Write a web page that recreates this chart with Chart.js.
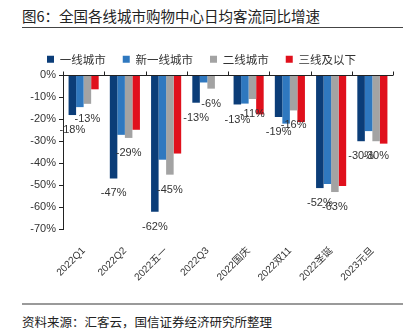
<!DOCTYPE html>
<html>
<head>
<meta charset="utf-8">
<script src="https://cdn.jsdelivr.net/npm/chart.js@4.4.1/dist/chart.umd.min.js"></script>
<style>
  body { margin: 0; background: #fff; width: 418px; height: 334px; position: relative; overflow: hidden;
         font-family: "Liberation Sans", "Noto Sans CJK SC", sans-serif; }
  .titulo { position: absolute; left: 22px; top: 5px; font-size: 14.5px; color: #222;
            font-family: "Noto Sans CJK SC", sans-serif; }
  .linea1 { position: absolute; left: 22px; top: 27px; width: 381px; height: 1px; background: #444; }
  .linea2 { position: absolute; left: 22px; top: 303px; width: 381px; height: 2px; background: #9a9a9a; }
  .fuente { position: absolute; left: 22px; top: 312px; font-size: 12.5px; color: #222;
            font-family: "Noto Sans CJK SC", sans-serif; }
  #wrap { position: absolute; left: 10px; top: 28px; width: 418px; height: 266px; }
</style>
</head>
<body>
<div class="titulo">图6：全国各线城市购物中心日均客流同比增速</div>
<div class="linea1"></div>
<div id="wrap"><canvas id="grafico"></canvas></div>
<div class="linea2"></div>
<div class="fuente">资料来源：汇客云，国信证券经济研究所整理</div>

<script>
// categorias y series (%)
const categorias = ["2022Q1", "2022Q2", "2022五一", "2022Q3", "2022国庆", "2022双11", "2022圣诞", "2023元旦"];
const series = ["一线城市", "新一线城市", "二线城市", "三线及以下"];
const tier1 = [-18.2, -47.0, -62.2, -12.6, -13.4, -19.1, -51.4, -30.1];
const tier1New = [-14.6, -27.2, -38.5, -3.4, -13.0, -22.1, -49.5, -25.5];
const tier2 = [-13.1, -28.6, -45.3, -6.2, -10.9, -16.1, -53.2, -30.1];
const tier3 = [-6.5, -24.9, -35.7, 0, -17.9, -21.4, -50.4, -31.2];
// etiquetas tal como aparecen en la imagen
const etiquetasTier1 = ["-18%", "-47%", "-62%", "-13%", "-13%", "-19%", "-52%", "-30%"];
const etiquetasTier2 = ["-13%", "-29%", "-45%", "-6%", "-11%", "-16%", "-63%", "-30%"];
const ticksY = [0, -10, -20, -30, -40, -50, -60, -70];

const colores = ["#0b3d78", "#2f78bf", "#a3a3a3", "#e0101c"];
const valores = [tier1, tier1New, tier2, tier3];

const fuenteNum = "'Liberation Sans', 'Noto Sans CJK SC', sans-serif";

// Etiquetas de datos debajo de las barras (series 1 y 3)
const etiquetasPlugin = {
  id: "etiquetas",
  afterDatasetsDraw(chart) {
    const ctx = chart.ctx;
    ctx.save();
    ctx.font = "11px " + fuenteNum;
    ctx.fillStyle = "#333";
    ctx.textAlign = "center";
    ctx.textBaseline = "middle";
    [[0, etiquetasTier1], [2, etiquetasTier2]].forEach(([idx, textos]) => {
      chart.getDatasetMeta(idx).data.forEach((bar, i) => {
        ctx.fillText(textos[i], bar.x, bar.y + 15);
      });
    });
    ctx.restore();
  }
};

// linea del cero con marcas hacia arriba entre categorias
const ejeCeroPlugin = {
  id: "ejeCero",
  afterDatasetsDraw(chart) {
    const ctx = chart.ctx;
    const x = chart.scales.x;
    const y0 = Math.round(chart.scales.y.getPixelForValue(0)) + 0.5;
    const paso = x.getPixelForValue(1) - x.getPixelForValue(0);
    ctx.save();
    ctx.strokeStyle = "#222";
    ctx.lineWidth = 1;
    ctx.beginPath();
    ctx.moveTo(chart.chartArea.left, y0);
    ctx.lineTo(chart.chartArea.right, y0);
    for (let i = 0; i <= categorias.length; i++) {
      const px = Math.round(x.getPixelForValue(i) - paso / 2) + 0.5;
      ctx.moveTo(px, y0);
      ctx.lineTo(px, y0 - 4);
    }
    ctx.stroke();
    ctx.restore();
  }
};

const config = {
  type: "bar",
  data: {
    labels: categorias,
    datasets: series.map((nombre, i) => ({
      label: nombre,
      data: valores[i],
      backgroundColor: colores[i],
      borderWidth: 0,
      categoryPercentage: 0.73,
      barPercentage: 1.0
    }))
  },
  options: {
    responsive: false,
    animation: false,
    layout: { padding: { top: 8.5, right: 35, left: 0, bottom: 0 } },
    plugins: {
      tooltip: { enabled: false },
      legend: {
        position: "top",
        labels: {
          boxWidth: 7,
          boxHeight: 7,
          padding: 17,
          color: "#333",
          font: { size: 11.5, family: "'Noto Sans CJK SC', sans-serif" }
        }
      }
    },
    scales: {
      x: {
        grid: { display: false },
        border: { display: false },
        ticks: {
          maxRotation: 45,
          minRotation: 45,
          color: "#333",
          padding: 8,
          font: { size: 10, family: fuenteNum }
        },
        afterFit: (s) => { s.height = 65; }
      },
      y: {
        min: -70,
        max: 0,
        afterBuildTicks: (s) => { s.ticks = ticksY.map((v) => ({ value: v })); },
        grid: { drawOnChartArea: false, drawTicks: true, tickLength: 4, color: "#222" },
        border: { display: true, color: "#222", width: 1 },
        ticks: {
          color: "#333",
          padding: 3,
          font: { size: 11, family: fuenteNum },
          callback: (v) => v + "%"
        },
        afterFit: (s) => { s.width = 53; }
      }
    }
  },
  plugins: [etiquetasPlugin, ejeCeroPlugin]
};

const canvas = document.getElementById("grafico");
canvas.width = 418;
canvas.height = 266;
new Chart(canvas.getContext("2d"), config);
</script>
</body>
</html>
